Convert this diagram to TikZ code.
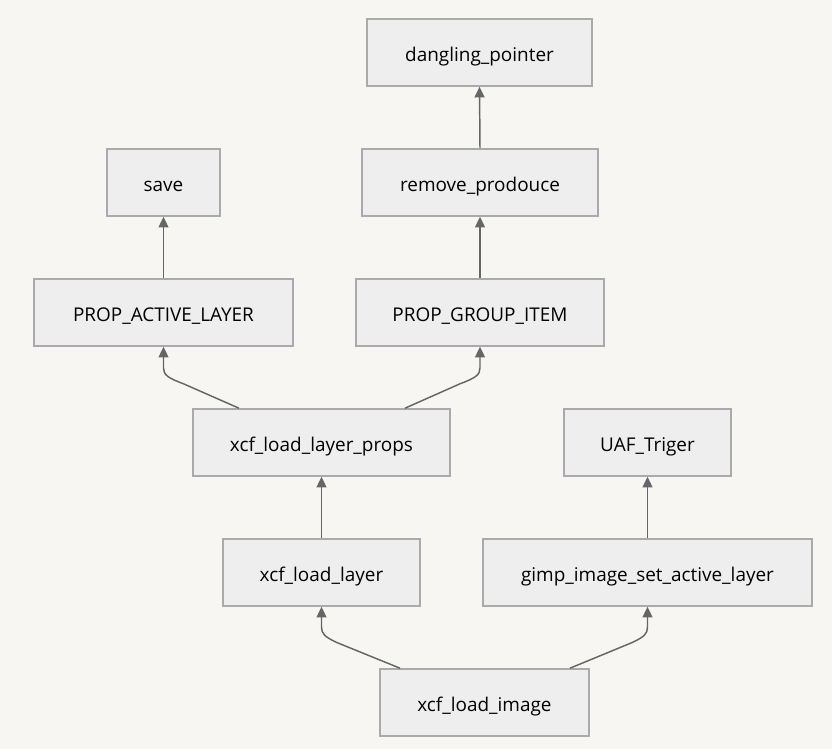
\documentclass[tikz,border=0pt]{standalone}
\usepackage{fontspec}
\setmainfont{Open Sans}
\usetikzlibrary{arrows.meta,calc}
\definecolor{bg}{HTML}{F7F6F3}
\definecolor{boxfill}{HTML}{EEEEEE}
\definecolor{boxline}{HTML}{AAAAAA}
\definecolor{edge}{HTML}{666666}
\tikzset{
  box/.style={draw=boxline, fill=boxfill, line width=1.2pt, inner sep=0pt, minimum height=50.25pt, text height=13.5pt, text depth=0.5pt, font=\fontsize{14.2pt}{16pt}\selectfont, text=black},
  link/.style={draw=edge, line width=1.1pt, -{Triangle[width=7.5pt,length=8pt]}},
}
\begin{document}
\begin{tikzpicture}[x=0.75pt,y=-0.75pt]
\fill[bg] (0,0) rectangle (832,749);
\useasboundingbox (0,0) rectangle (832,749);
\node[box, minimum width=168.75pt] (dp) at (479.5,52.5) {dangling\_pointer};
\node[box, minimum width=84.75pt] (save) at (163.5,182.5) {save};
\node[box, minimum width=177pt] (rp) at (480,182.5) {remove\_prodouce};
\node[box, minimum width=194.25pt] (pal) at (163.5,312.5) {PROP\_ACTIVE\_LAYER};
\node[box, minimum width=186pt] (pgi) at (480,312.5) {PROP\_GROUP\_ITEM};
\node[box, minimum width=192.75pt] (xllp) at (321.5,442.5) {xcf\_load\_layer\_props};
\node[box, minimum width=125.25pt] (uaf) at (647.5,442.5) {UAF\_Triger};
\node[box, minimum width=147.75pt] (xll) at (321.5,572.5) {xcf\_load\_layer};
\node[box, minimum width=246.75pt] (gis) at (647.5,572.5) {gimp\_image\_set\_active\_layer};
\node[box, minimum width=156.75pt] (xli) at (484.5,702.5) {xcf\_load\_image};

\draw[link] (rp.north) -- (dp.south);
\draw[link] (pgi.north) -- (rp.south);
\draw[link] (pal.north) -- (save.south);
\draw[link] (gis.north) -- (uaf.south);
\draw[link] (xll.north) -- (xllp.south);

\draw[link] ($(xllp.north)+(-82.5,0)$) -- ($(pal.south)+(20,37)$)
  .. controls ($(pal.south)+(4,31)$) and ($(pal.south)+(0,28)$) .. ($(pal.south)+(0,21)$) -- (pal.south);
\draw[link] ($(xllp.north)+(83.5,0)$) -- ($(pgi.south)+(-20,37)$)
  .. controls ($(pgi.south)+(-4,31)$) and ($(pgi.south)+(0,28)$) .. ($(pgi.south)+(0,21)$) -- (pgi.south);
\draw[link] ($(xli.north)+(-84.5,0)$) -- ($(xll.south)+(16,36)$)
  .. controls ($(xll.south)+(3,30)$) and ($(xll.south)+(0,27)$) .. ($(xll.south)+(0,20)$) -- (xll.south);
\draw[link] ($(xli.north)+(85.5,0)$) -- ($(gis.south)+(-16,36)$)
  .. controls ($(gis.south)+(-3,30)$) and ($(gis.south)+(0,27)$) .. ($(gis.south)+(0,20)$) -- (gis.south);
\end{tikzpicture}
\end{document}
